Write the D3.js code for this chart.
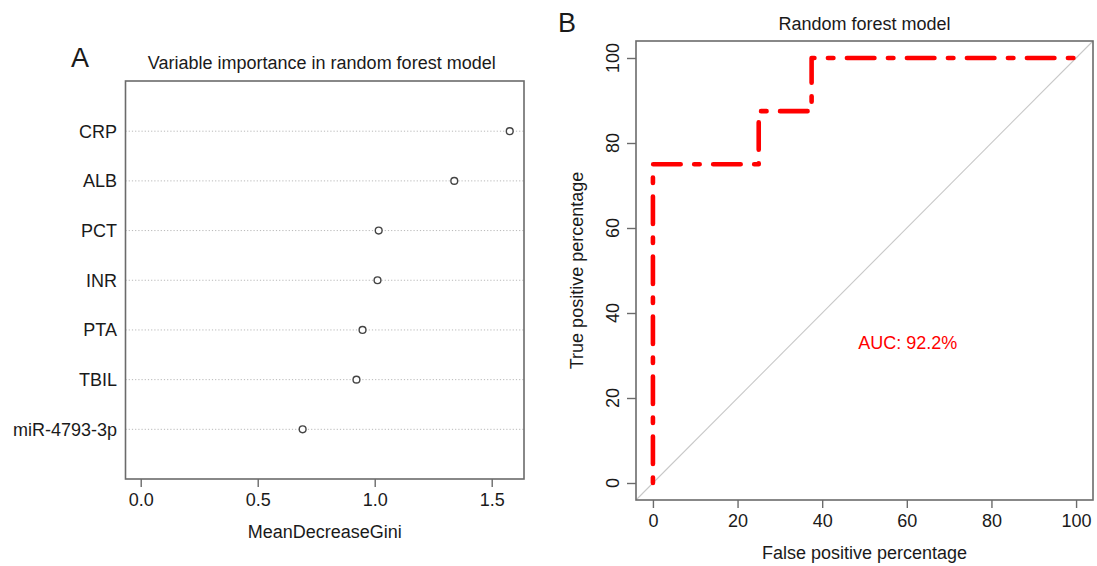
<!DOCTYPE html>
<html>
<head>
<meta charset="utf-8">
<script src="https://cdn.jsdelivr.net/npm/d3@7"></script>
<style>
  html, body { margin: 0; padding: 0; background: #fff; }
  svg { display: block; }
  text { font-family: "Liberation Sans", Arial, Helvetica, sans-serif; fill: #1a1a1a; }
</style>
</head>
<body>
<svg id="chart" width="1097" height="566"></svg>
<script>
// ---- Panel A data ----
const variables = ["CRP", "ALB", "PCT", "INR", "PTA", "TBIL", "miR-4793-3p"];
const giniValues = [1.577, 1.340, 1.017, 1.012, 0.948, 0.922, 0.692];
const giniTicks = [0.0, 0.5, 1.0, 1.5];

// ---- Panel B data ----
const fprValues = [0, 0, 25, 25, 37.5, 37.5, 100];
const tprValues = [0, 75, 75, 87.5, 87.5, 100, 100];
const rocTicks = [0, 20, 40, 60, 80, 100];
const aucLabel = "AUC: 92.2%";

const svg = d3.select("#chart");
const FS = 18;
const boxColor = "#6b6b6b";

// ================= Panel A =================
const A = { left: 125.5, right: 524, top: 81, bottom: 479 };
const xA = d3.scaleLinear().domain([-0.065, 1.638]).range([A.left, A.right]);
const yA = d3.scaleLinear().domain([0, 8]).range([A.bottom, A.top + 0.5]);

const gA = svg.append("g");

// dotted guide lines
gA.selectAll("line.guide").data(variables).join("line")
  .attr("class", "guide")
  .attr("x1", A.left).attr("x2", A.right)
  .attr("y1", (d, i) => yA(variables.length - i))
  .attr("y2", (d, i) => yA(variables.length - i))
  .attr("stroke", "#b8b8b8").attr("stroke-width", 1)
  .attr("stroke-dasharray", "1.2,2");

// row labels
gA.selectAll("text.rowlab").data(variables).join("text")
  .attr("class", "rowlab")
  .attr("x", A.left - 8.5)
  .attr("y", (d, i) => yA(variables.length - i))
  .attr("dy", "0.36em")
  .attr("text-anchor", "end")
  .attr("font-size", FS)
  .text(d => d);

// points
gA.selectAll("circle").data(giniValues).join("circle")
  .attr("cx", d => xA(d))
  .attr("cy", (d, i) => yA(variables.length - i))
  .attr("r", 3.4)
  .attr("fill", "#fff")
  .attr("stroke", "#444")
  .attr("stroke-width", 1.4);

// box
gA.append("rect")
  .attr("x", A.left).attr("y", A.top)
  .attr("width", A.right - A.left).attr("height", A.bottom - A.top)
  .attr("fill", "none").attr("stroke", boxColor).attr("stroke-width", 1.6);

// x axis
const axA = gA.append("g").attr("transform", `translate(0,${A.bottom})`)
  .call(d3.axisBottom(xA).tickValues(giniTicks).tickFormat(d3.format(".1f")).tickSize(8).tickPadding(6));
axA.select(".domain").remove();
axA.selectAll(".tick line").attr("stroke", boxColor).attr("stroke-width", 1.4);
axA.selectAll(".tick text").attr("font-size", FS).attr("font-family", "Liberation Sans, Arial, sans-serif").attr("fill", "#1a1a1a");

gA.append("text")
  .attr("x", (A.left + A.right) / 2).attr("y", 538)
  .attr("text-anchor", "middle").attr("font-size", FS)
  .text("MeanDecreaseGini");

gA.append("text")
  .attr("x", (A.left + A.right) / 2 - 3).attr("y", 69)
  .attr("text-anchor", "middle").attr("font-size", FS)
  .text("Variable importance in random forest model");

gA.append("text")
  .attr("x", 71).attr("y", 67)
  .attr("font-size", 27)
  .text("A");

// ================= Panel B =================
const B = { left: 636, right: 1093, top: 41, bottom: 500 };
const xB = d3.scaleLinear().domain([-4, 104]).range([B.left, B.right]);
const yB = d3.scaleLinear().domain([-4, 104]).range([B.bottom, B.top]);

const gB = svg.append("g");

// diagonal reference
gB.append("line")
  .attr("x1", xB(-4)).attr("y1", yB(-4))
  .attr("x2", xB(104)).attr("y2", yB(104))
  .attr("stroke", "#c8c8c8").attr("stroke-width", 1.1);

// ROC curve
const rocPts = fprValues.map((x, i) => [x, tprValues[i]]);
gB.append("path")
  .datum(rocPts)
  .attr("d", d3.line().x(d => xB(d[0])).y(d => yB(d[1])))
  .attr("fill", "none")
  .attr("stroke", "#ff0000")
  .attr("stroke-width", 4.6)
  .attr("stroke-linecap", "round")
  .attr("stroke-linejoin", "round")
  .attr("stroke-dasharray", "5.5,13.5,27.5,13.5");

// box
gB.append("rect")
  .attr("x", B.left).attr("y", B.top)
  .attr("width", B.right - B.left).attr("height", B.bottom - B.top)
  .attr("fill", "none").attr("stroke", boxColor).attr("stroke-width", 1.6);

// x axis
const axBx = gB.append("g").attr("transform", `translate(0,${B.bottom})`)
  .call(d3.axisBottom(xB).tickValues(rocTicks).tickSize(8).tickPadding(6));
axBx.select(".domain").remove();
axBx.selectAll(".tick line").attr("stroke", boxColor).attr("stroke-width", 1.4);
axBx.selectAll(".tick text").attr("font-size", FS).attr("font-family", "Liberation Sans, Arial, sans-serif").attr("fill", "#1a1a1a");

// y axis (rotated labels like R)
const axBy = gB.append("g").attr("transform", `translate(${B.left},0)`)
  .call(d3.axisLeft(yB).tickValues(rocTicks).tickSize(9).tickFormat(() => ""));
axBy.select(".domain").remove();
axBy.selectAll(".tick line").attr("stroke", boxColor).attr("stroke-width", 1.4);
gB.selectAll("text.ylab").data(rocTicks).join("text")
  .attr("class", "ylab")
  .attr("transform", d => `translate(${B.left - 23},${yB(d)}) rotate(-90)`)
  .attr("text-anchor", "middle")
  .attr("dy", "0.36em")
  .attr("font-size", FS)
  .text(d => d);

gB.append("text")
  .attr("x", (B.left + B.right) / 2).attr("y", 559)
  .attr("text-anchor", "middle").attr("font-size", FS)
  .text("False positive percentage");

gB.append("text")
  .attr("transform", `translate(583,${(B.top + B.bottom) / 2}) rotate(-90)`)
  .attr("text-anchor", "middle").attr("font-size", FS)
  .text("True positive percentage");

gB.append("text")
  .attr("x", (B.left + B.right) / 2).attr("y", 30)
  .attr("text-anchor", "middle").attr("font-size", FS)
  .text("Random forest model");

gB.append("text")
  .attr("x", 558).attr("y", 32)
  .attr("font-size", 27)
  .text("B");

gB.append("text")
  .attr("x", xB(48.5)).attr("y", yB(33))
  .attr("dy", "0.36em")
  .attr("font-size", FS)
  .style("fill", "#ff0000")
  .text(aucLabel);
</script>
</body>
</html>
